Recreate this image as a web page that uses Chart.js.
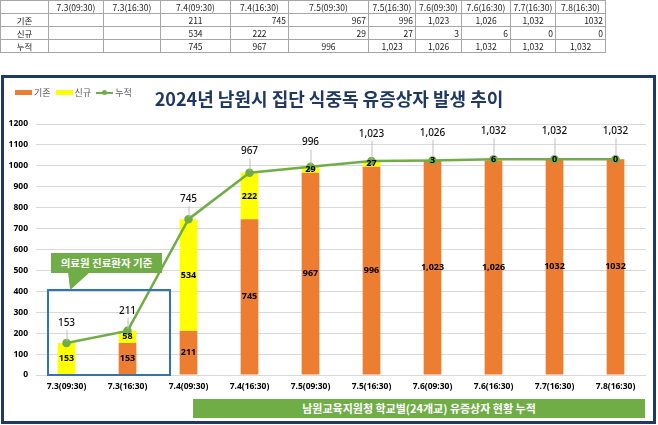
<!DOCTYPE html>
<html><head><meta charset="utf-8">
<script src="https://cdn.jsdelivr.net/npm/chart.js@4"></script>
<style>
body{margin:0;width:658px;height:425px;overflow:hidden;background:#fff;position:relative;font-family:'Noto Sans CJK KR','Noto Sans',sans-serif}
#c{position:absolute;left:0;top:0}
#tbl{position:absolute;left:0;top:0;border-collapse:collapse;table-layout:fixed;font-size:8.5px;color:#222;font-family:'Noto Sans CJK KR',sans-serif}
#tbl td{border:1px solid #a6a6a6;height:12px;line-height:12px;padding:0 2px;white-space:nowrap;overflow:hidden}
#frame{position:absolute;left:1px;top:75px;width:655px;height:349px;border:3px solid #1F3864;box-sizing:border-box;pointer-events:none}
#title{position:absolute;left:0;width:658px;top:87px;line-height:22px;text-align:center;font-weight:bold;font-size:18px;color:#1F3864}
#legend{position:absolute;left:15px;top:85px;font-size:9px;color:#595959;line-height:14px;white-space:nowrap}
#legend span.k{display:inline-block;vertical-align:middle;width:17px;height:5px;margin-right:2px}
#legend span.t{display:inline-block;vertical-align:middle;margin-right:5px}
#legend span.ln{display:inline-block;vertical-align:middle;width:17px;height:2px;background:#70AD47;position:relative;margin-right:2px}
#legend span.ln:after{content:'';position:absolute;left:6px;top:-2px;width:5px;height:5px;border-radius:50%;background:#70AD47}
#box{position:absolute;left:47px;top:289px;width:124px;height:87px;border:2px solid #2E75B6;box-sizing:border-box}
#callout{position:absolute;left:51px;top:253px;width:111px;height:20px;background:#70AD47;color:#fff;font-weight:bold;font-size:10.5px;line-height:20px;text-align:center;white-space:nowrap}
#ptr{position:absolute;left:68px;top:272px;width:22px;height:18px;background:#70AD47;clip-path:polygon(0 0,100% 0,10% 100%)}
#banner{position:absolute;left:193px;top:399px;width:452px;height:19px;background:#70AD47;color:#fff;font-weight:bold;font-size:11px;line-height:19px;text-align:center;white-space:nowrap}
</style></head>
<body>
<canvas id="c" width="658" height="425"></canvas>
<table id="tbl"></table>
<div id="frame"></div>
<div id="title">2024년 남원시 집단 식중독 유증상자 발생 추이</div>
<div id="legend"><span class="k" style="background:#ED7D31"></span><span class="t">기존</span><span class="k" style="background:#FFFF00"></span><span class="t">신규</span><span class="ln"></span><span class="t">누적</span></div>
<div id="box"></div>
<div id="ptr"></div>
<div id="callout">의료원 진료환자 기준</div>
<div id="banner">남원교육지원청 학교별(24개교) 유증상자 현황 누적</div>
<script>
// ---- data ----
const categories = ["7.3(09:30)","7.3(16:30)","7.4(09:30)","7.4(16:30)","7.5(09:30)","7.5(16:30)","7.6(09:30)","7.6(16:30)","7.7(16:30)","7.8(16:30)"];
const existing   = [0,153,211,745,967,996,1023,1026,1032,1032];
const newCases   = [153,58,534,222,29,27,3,6,0,0];
const cumulative = [153,211,745,967,996,1023,1026,1032,1032,1032];
const existingLabels = ["","153","211","745","967","996","1,023","1,026","1032","1032"];
const seriesNames = ["기존","신규","누적"];
const yMin = 0, yMax = 1200, yStep = 100;
// table (as shown above the chart)
const tableExisting   = ["","","211","745","967","996","1,023","1,026","1,032","1032"];
const tableNew        = ["","","534","222","29","27","3","6","0","0"];
const tableCumulative = ["","","745","967","996","1,023","1,026","1,032","1,032","1,032"];

// ---- table ----
const colW=[48,55,57,70,58,80,47,46,49,45,50];
const alignE=['c','c','c','r','r','r','c','c','c','r'];
const alignN=['c','c','c','c','r','r','r','r','r','r'];
const alignC=['c','c','c','c','c','c','c','c','c','c'];
const tbl=document.getElementById('tbl');
let h='<colgroup>'+colW.map(w=>'<col style="width:'+w+'px">').join('')+'</colgroup>';
h+='<tr><td></td>'+categories.map(c=>'<td style="text-align:center">'+c+'</td>').join('')+'</tr>';
function row(name,vals,al){return '<tr><td style="text-align:center">'+name+'</td>'+vals.map((v,i)=>'<td style="text-align:'+(al[i]==='r'?'right':'center')+'">'+v+'</td>').join('')+'</tr>';}
h+=row(seriesNames[0],tableExisting,alignE)+row(seriesNames[1],tableNew,alignN)+row(seriesNames[2],tableCumulative,alignC);
tbl.innerHTML=h;

// ---- labels plugin ----
const labelPlugin={
  id:'labels',
  afterDatasetsDraw(chart){
    const ctx=chart.ctx; ctx.save();
    const mL=chart.getDatasetMeta(2);
    const top=chart.chartArea.top;
    ctx.textAlign='center'; ctx.textBaseline='middle';
    mL.data.forEach((pt,i)=>{
      const off=20+Math.max(0,(top+51-pt.y))*0.5;
      const ly=pt.y-off;
      ctx.strokeStyle='#BFBFBF'; ctx.lineWidth=1;
      ctx.beginPath(); ctx.moveTo(pt.x+0.5, ly+7); ctx.lineTo(pt.x+0.5, pt.y-2); ctx.stroke();
      ctx.font='500 10px "Noto Sans", sans-serif'; ctx.fillStyle='#111';
      ctx.fillText(cumulative[i].toLocaleString('en-US'), pt.x, ly);
    });
    ctx.font='bold 9px "Noto Sans", sans-serif'; ctx.fillStyle='#000';
    chart.getDatasetMeta(0).data.forEach((bar,i)=>{
      if(!existingLabels[i]) return;
      ctx.fillText(existingLabels[i], bar.x, (bar.y+bar.base)/2);
    });
    chart.getDatasetMeta(1).data.forEach((bar,i)=>{
      ctx.fillText(String(newCases[i]), bar.x, (bar.y+bar.base)/2);
    });
    ctx.restore();
  }
};

new Chart(document.getElementById('c'),{
  data:{
    labels:categories,
    datasets:[
      {type:'bar',label:seriesNames[0],data:existing,backgroundColor:'#ED7D31',stack:'s',order:1,barPercentage:0.29,categoryPercentage:1},
      {type:'bar',label:seriesNames[1],data:newCases,backgroundColor:'#FFFF00',stack:'s',order:2,barPercentage:0.29,categoryPercentage:1},
      {type:'line',label:seriesNames[2],data:cumulative,borderColor:'#70AD47',backgroundColor:'#70AD47',borderWidth:2.5,pointRadius:3,pointBackgroundColor:'#70AD47',pointBorderColor:'#70AD47',tension:0,order:0}
    ]
  },
  options:{
    responsive:false,animation:false,
    layout:{padding:{left:6,right:12,top:124,bottom:30}},
    plugins:{legend:{display:false},tooltip:{enabled:false},title:{display:false}},
    scales:{
      x:{stacked:true,grid:{display:false,drawTicks:false},border:{display:false},
         ticks:{color:'#000',font:{family:'"Noto Sans", sans-serif',size:8.5,weight:'bold'},padding:6,maxRotation:0,autoSkip:false},
         afterFit(s){s.height=20;}},
      y:{stacked:true,min:yMin,max:yMax,grid:{color:'#D9D9D9',drawTicks:false},border:{display:false},
         ticks:{stepSize:yStep,color:'#000',font:{family:'"Noto Sans", sans-serif',size:8.5,weight:'bold'},padding:8,callback:v=>String(v)},
         afterFit(s){s.width=30;}}
    }
  },
  plugins:[labelPlugin]
});
</script>
</body></html>
